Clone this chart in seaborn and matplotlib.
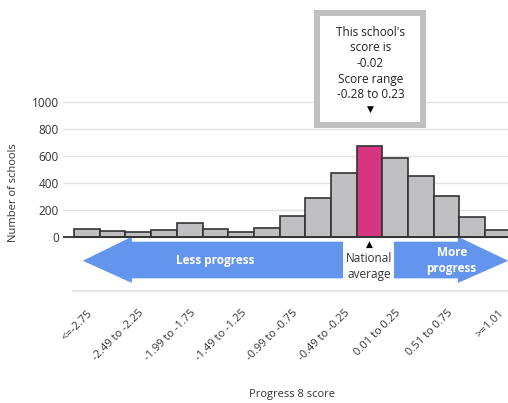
import numpy as np
import pandas as pd
import matplotlib.pyplot as plt
import matplotlib.transforms as mtransforms
from matplotlib.patches import Polygon, Rectangle
import seaborn as sns

# score bands and number of schools in each band
bands = ["<=-2.75", "-2.74 to -2.50", "-2.49 to -2.25", "-2.24 to -2.00",
         "-1.99 to -1.75", "-1.74 to -1.50", "-1.49 to -1.25", "-1.24 to -1.00",
         "-0.99 to -0.75", "-0.74 to -0.50", "-0.49 to -0.25", "-0.24 to 0.00",
         "0.01 to 0.25", "0.26 to 0.50", "0.51 to 0.75", "0.76 to 1.00", ">=1.01"]
schools = [55, 40, 32, 50, 105, 57, 33, 64, 152, 288, 474, 675, 588, 455, 306, 143, 50]
school_band = "-0.24 to 0.00"
school_score = "-0.02"
score_range = "-0.28 to 0.23"
yticks = [0, 200, 400, 600, 800, 1000]

sns.set_style("white")
plt.rcParams["font.family"] = ["Open Sans", "DejaVu Sans"]

df = pd.DataFrame({"band": bands, "schools": schools})
colors = ["#d6357f" if b == school_band else "#c0c0c2" for b in bands]

fig = plt.figure(figsize=(5.08, 4.03), dpi=100)
ax = fig.add_axes([63 / 508, 1 - 291 / 403, 445 / 508, 291 / 403])

sns.barplot(data=df, x="band", y="schools", hue="band", palette=colors,
            legend=False, width=1.0, saturation=1, edgecolor="#333333",
            linewidth=1.2, ax=ax, zorder=3)

ax.set_xlim(-0.93, 16.39)
ax.set_ylim(-404, 1761)
ax.set_yticks(yticks)
ax.set_yticklabels([str(v) for v in yticks], fontsize=8.5, color="#333333")
ax.grid(axis="y", color="#e2e2e2", linewidth=1, zorder=0)
ax.axhline(0, color="#333333", linewidth=1.3, zorder=4)
ax.axhline(-404, xmin=10 / 445, color="#e6e6e6", linewidth=1.5, clip_on=False)
for s in ax.spines.values():
    s.set_visible(False)
ax.tick_params(axis="y", length=0, pad=3)
ax.tick_params(axis="x", length=0, pad=12)

ax.set_xticks(range(0, len(bands), 2))
ax.set_xticklabels(bands[::2], rotation=45, ha="right", fontsize=8, color="#333333")
shift = mtransforms.ScaledTranslation(0.08, 0, fig.dpi_scale_trans)
for lab in ax.get_xticklabels():
    lab.set_transform(lab.get_transform() + shift)
ax.set_xlabel("")
ax.set_ylabel("")

fig.text(292 / 508, 1 - 394 / 403, "Progress 8 score", ha="center", va="center",
         fontsize=8, color="#333333")
fig.text(14 / 508, 1 - 193 / 403, "Number of schools", ha="center", va="center",
         rotation=90, fontsize=8, color="#333333")

# progress arrows under the axis
blue = "#6495ed"
left_arrow = [(-0.16, -179), (1.75, 0), (1.75, -37), (9.97, -37),
              (9.97, -310), (1.75, -310), (1.75, -344)]
right_arrow = [(11.95, -37), (14.44, -37), (14.44, 0), (16.4, -179),
               (14.44, -344), (14.44, -310), (11.95, -310)]
ax.add_patch(Polygon(left_arrow, closed=True, fc=blue, ec="none", zorder=2))
ax.add_patch(Polygon(right_arrow, closed=True, fc=blue, ec="none", zorder=2))
ax.text(5.0, -174, "Less progress", ha="center", va="center", color="white",
        fontsize=8.5, fontweight="bold")
ax.text(14.2, -174, "More\nprogress", ha="center", va="center", color="white",
        fontsize=8.5, fontweight="bold", linespacing=1.3)

mid = bands.index(school_band)
ax.text(mid, -54, "\u25b2", ha="center", va="center", fontsize=6.5, color="black",
        family=["DejaVu Sans"])
ax.text(mid, -222, "National\naverage", ha="center", va="center", fontsize=8.5,
        color="#333333", linespacing=1.25)

# tooltip for this school
ax.add_patch(Rectangle((mid - 2.03, 831), 4.1, 833, fc="white", ec="#c0c0c0",
                       lw=4.3, clip_on=False, zorder=5))
ax.text(mid + 0.04, 1289,
        f"This school's\nscore is\n{school_score}\nScore range\n{score_range}",
        ha="center", va="center", fontsize=8.5, color="#222222",
        linespacing=1.27, zorder=6)
ax.text(mid + 0.04, 944, "\u25bc", ha="center", va="center", fontsize=6.5,
        color="black", family=["DejaVu Sans"], zorder=6)

fig.savefig("out.png", dpi=100)
